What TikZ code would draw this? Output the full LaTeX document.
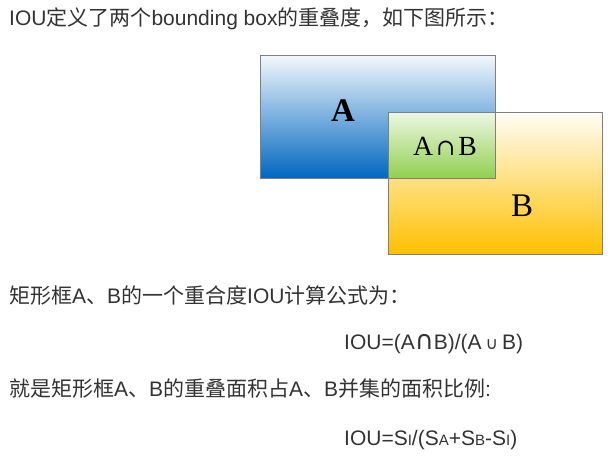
\documentclass[tikz,border=0pt]{standalone}
\usepackage{fontspec}
\setmainfont{Liberation Sans}
\newfontfamily\cjk{Noto Sans CJK SC}
\newfontfamily\tnr{Liberation Serif}
\newfontfamily\dvs{DejaVu Sans}
\newfontfamily\dvserif{DejaVu Serif}
\newcommand{\zh}[1]{{\cjk #1}}
\newcommand{\smcap}[1]{{\fontsize{15}{15}\selectfont #1}}
\definecolor{textgray}{HTML}{333333}
\definecolor{boxline}{HTML}{7F7F7F}
\definecolor{blueA}{HTML}{0067BF}
\definecolor{paleA}{HTML}{F4F8FD}
\definecolor{goldB}{HTML}{FFC000}
\definecolor{paleB}{HTML}{FFFDF6}
\definecolor{greenI}{HTML}{92D050}
\definecolor{paleI}{HTML}{EDF7E4}
\tikzset{
  txt/.style={anchor=base west,inner sep=0pt,text=textgray,
    font=\fontsize{21}{25}\selectfont},
  boxlab/.style={inner sep=0pt,text=black}
}
\begin{document}
\begin{tikzpicture}[x=1pt,y=-1pt]
  \useasboundingbox (0,0) rectangle (610,466);
  % text above the boxes
  \node[txt] (intro) at (9,25.5) {IOU\zh{定义了两个}bounding box\zh{的重叠度，如下图所示：}};
  % box A, box B and their overlap
  \shade[top color=paleA,bottom color=blueA] (260,55) rectangle (495,178);
  \shade[top color=paleB,bottom color=goldB] (388,112) rectangle (602,254);
  \shade[top color=paleI,bottom color=greenI] (388,112) rectangle (495,178);
  \draw[boxline,line width=1pt] (260,55) rectangle (495,178);
  \draw[boxline,line width=1pt] (388,112) rectangle (602,254);
  \node[boxlab,font=\tnr\bfseries\fontsize{33}{33}\selectfont] (labA) at (343,111) {A};
  \node[boxlab,anchor=base,font=\tnr\fontsize{27.7}{28}\selectfont] (labAB) at (445,155)
    {A\kern3pt{\dvserif\fontsize{23}{23}\selectfont ∩}\kern3pt B};
  \node[boxlab,font=\tnr\fontsize{33}{33}\selectfont] (labB) at (522,206) {B};
  % text below the boxes
  \node[txt] (line2) at (9,303.5) {\zh{矩形框}A\zh{、}B\zh{的一个重合度}IOU\zh{计算公式为：}};
  \node[txt] (form1) at (344,349.5) {IOU=(A{\dvs\fontsize{26}{26}\selectfont ∩}B)/(A\kern4pt{\dvs\fontsize{17}{17}\selectfont ∪}\kern4pt B)};
  \node[txt] (line3) at (9,396.5) {\zh{就是矩形框}A\zh{、}B\zh{的重叠面积占}A\zh{、}B\zh{并集的面积比例}:};
  \node[txt] (form2) at (344,445.5) {IOU=S\smcap{I}/(S\smcap{A}+S\smcap{B}-S\smcap{I})};
\end{tikzpicture}
\end{document}
